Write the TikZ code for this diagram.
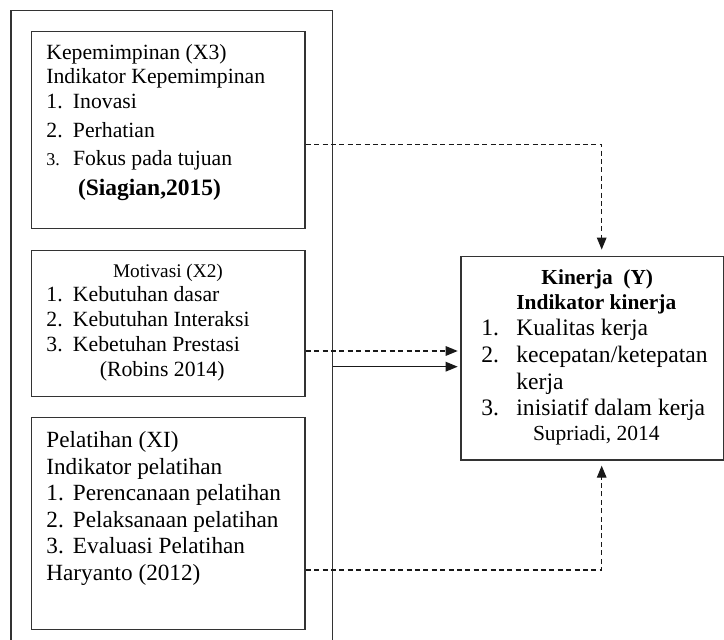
\documentclass[tikz,border=0pt]{standalone}
\usepackage{fontspec}
\setmainfont{Liberation Serif}
\usetikzlibrary{arrows.meta, positioning, calc}

\begin{document}
\begin{tikzpicture}[
  x=0.5pt, y=-0.5pt,
  box/.style = {draw=black!80, line width=0.7pt, inner sep=0pt},
  txt/.style = {inner sep=0pt, anchor=base west},
  arrow/.style = {line width=0.6pt, draw=black!90, -{Triangle[length=6pt, width=4.8pt]}},
  dasharrow/.style = {arrow, dash pattern=on 2.5pt off 1.7pt}
]
  \useasboundingbox (0,0) rectangle (724,640);

  % ======================================================
  % Frame round the three independent variables
  % ======================================================
  \node[box, minimum width=160.85pt, minimum height=317.15pt] (frame) at (171.85,327.85) {};

  % Kepemimpinan (X3)
  \node[box, minimum width=136.65pt, minimum height=98.3pt] (x3) at (168.35,130) {};
  \node[txt] (x3text) at ($(x3.north west)+(15,28.6)$) {%
    \fontsize{10.85}{12}\selectfont
    \begin{tabular}[t]{@{}l@{}}
      Kepemimpinan (X3)\\[0pt]
      Indikator Kepemimpinan\\[0.5pt]
      \makebox[13.3pt][l]{1.}Inovasi\\[2.7pt]
      \makebox[13.3pt][l]{2.}Perhatian\\[2pt]
      \makebox[13.3pt][l]{\fontsize{9}{9}\selectfont 3.}Fokus pada tujuan\\[2.65pt]
      \hspace*{15.8pt}{\fontsize{11.75}{12}\selectfont\bfseries (Siagian,2015)}
    \end{tabular}};

  % Motivasi (X2)
  \node[box, minimum width=136.65pt, minimum height=72.8pt] (x2) at (168.35,323.5) {};
  \node[txt] (x2text) at ($(x2.north west)+(15,28)$) {%
    \fontsize{10.85}{12.5}\selectfont
    \begin{tabular}[t]{@{}l@{}}
      \hspace*{33.3pt}{\fontsize{9.65}{10}\selectfont Motivasi (X2)}\\[-0.8pt]
      \makebox[13.3pt][l]{1.}Kebutuhan dasar\\
      \makebox[13.3pt][l]{2.}Kebutuhan Interaksi\\
      \makebox[13.3pt][l]{3.}Kebetuhan Prestasi\\
      \hspace*{26.7pt}(Robins 2014)
    \end{tabular}};

  % Pelatihan (XI)
  \node[box, minimum width=136.65pt, minimum height=105.8pt] (x1) at (168.35,523.5) {};
  \node[txt] (x1text) at ($(x1.north west)+(15,30.6)$) {%
    \fontsize{11.6}{13.3}\selectfont
    \begin{tabular}[t]{@{}l@{}}
      Pelatihan (XI)\\
      Indikator pelatihan\\
      \makebox[13.3pt][l]{1.}Perencanaan pelatihan\\
      \makebox[13.3pt][l]{2.}Pelaksanaan pelatihan\\
      \makebox[13.3pt][l]{3.}Evaluasi Pelatihan\\
      Haryanto (2012)
    \end{tabular}};

  % ======================================================
  % Kinerja (Y)
  % ======================================================
  \node[box, minimum width=131.5pt, minimum height=101.65pt] (kinerja) at (592.5,358.35) {};
  \node[txt] (kinerjatext) at ($(kinerja.north west)+(20.7,28.3)$) {%
    \fontsize{11.8}{13.3}\selectfont
    \begin{tabular}[t]{@{}l@{}}
      \hspace*{30pt}{\fontsize{10.7}{12}\selectfont\bfseries Kinerja~~(Y)}\\[-0.8pt]
      \hspace*{17.5pt}{\fontsize{10.7}{12}\selectfont\bfseries Indikator kinerja}\\
      \makebox[17.5pt][l]{1.}Kualitas kerja\\
      \makebox[17.5pt][l]{2.}kecepatan/ketepatan\\
      \hspace*{17.5pt}kerja\\
      \makebox[17.5pt][l]{3.}inisiatif dalam kerja\\[-0.8pt]
      \hspace*{25.8pt}{\fontsize{10.75}{12}\selectfont Supriadi, 2014}
    \end{tabular}};

  % X3 -> Y (dashed, from above)
  \draw[dasharrow, shorten >=3.2pt] ($(x3.east)+(0,14.3)$) -| ($(kinerja.north)+(9.2,0)$);

  % X2 -> Y (dashed)
  \coordinate (x2out) at ($(x2.east)+(0,27.5)$);
  \draw[dasharrow, shorten >=1.3pt] (x2out) -- (x2out -| kinerja.west);

  % frame -> Y (solid)
  \coordinate (frameout) at ($(frame.east)+(0,38.85)$);
  \draw[arrow, shorten >=1.3pt] (frameout) -- (frameout -| kinerja.west);

  % X1 -> Y (dashed, from below)
  \draw[dasharrow, shorten >=2.5pt] ($(x1.east)+(0,46.5)$) -| ($(kinerja.south)+(9.2,0)$);

\end{tikzpicture}
\end{document}
